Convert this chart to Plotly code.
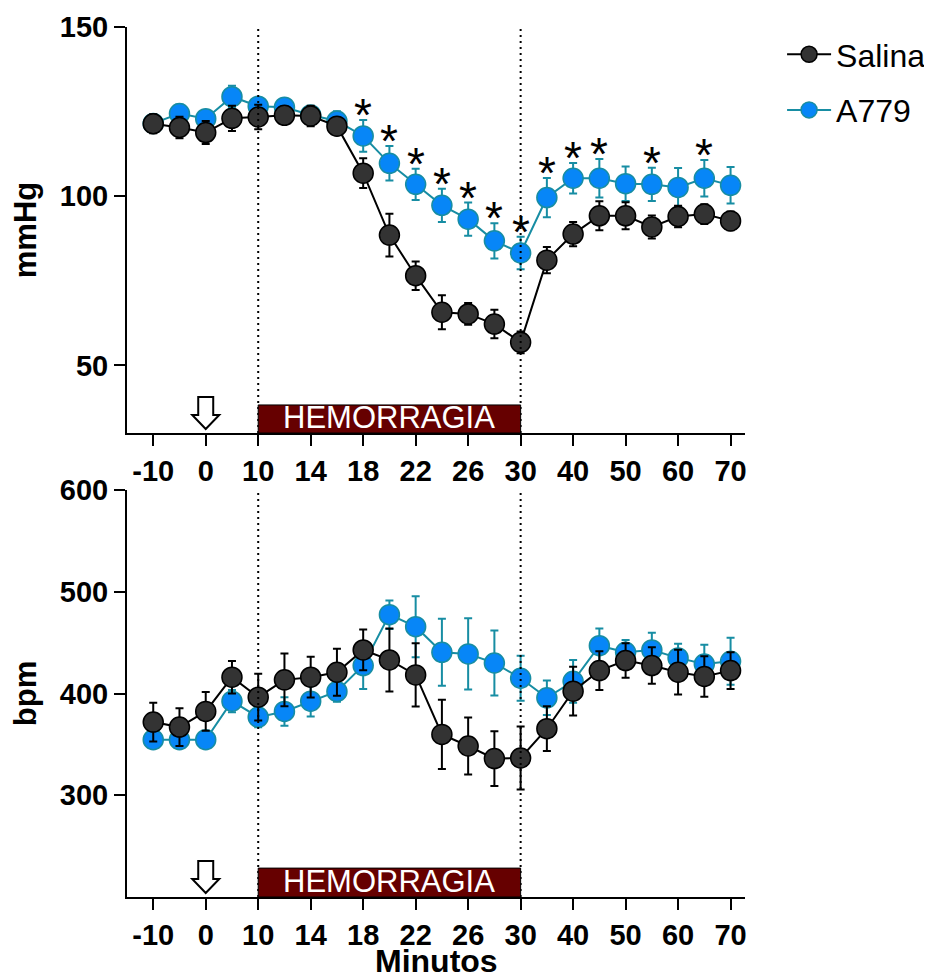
import plotly.graph_objects as go

# ---- data ----
times = [-10, -5, 0, 5, 10, 12, 14, 16, 18, 20, 22, 24, 26, 28, 30, 35, 40, 45, 50, 55, 60, 65, 70]
tick_times = [-10, 0, 10, 14, 18, 22, 26, 30, 40, 50, 60, 70]

map_salina = [121.4, 120.3, 118.8, 123.0, 123.4, 123.9, 123.7, 120.7, 106.8, 88.5, 76.5, 65.7,
              65.2, 62.2, 56.8, 81.1, 88.8, 94.2, 94.2, 90.9, 94.0, 94.7, 92.7]
map_salina_err = [2.8, 3.2, 3.4, 3.7, 3.6, 2.6, 3.0, 2.5, 4.4, 6.3, 4.2, 5.0,
                  3.2, 4.2, 3.2, 3.9, 3.6, 4.3, 4.0, 3.4, 3.2, 2.9, 2.8]
map_a779 = [121.5, 124.4, 122.9, 129.4, 126.6, 126.3, 124.0, 122.2, 117.8, 109.7, 103.5, 97.3,
            93.2, 86.8, 83.2, 99.6, 105.3, 105.3, 103.7, 103.5, 102.6, 105.3, 103.2]
map_a779_err = [2.0, 2.7, 2.3, 3.2, 2.5, 2.0, 2.0, 2.9, 4.7, 5.1, 4.6, 4.9,
                4.9, 5.2, 4.8, 5.8, 4.5, 5.7, 5.1, 4.9, 5.7, 5.4, 5.4]

hr_salina = [371.9, 367.0, 382.4, 416.0, 396.4, 413.4, 416.0, 420.9, 442.8, 433.0, 418.3, 359.8,
             348.4, 336.0, 336.6, 365.4, 402.3, 422.5, 432.4, 427.5, 420.9, 416.7, 422.5]
hr_salina_err = [19, 18.6, 19, 16, 23, 26, 20, 23, 20, 31, 31, 34,
                 28, 27, 31, 22, 24, 19, 17, 18, 22, 20, 18]
hr_a779 = [354.6, 354.6, 354.6, 392.5, 376.8, 382.4, 392.5, 402.0, 427.5, 477.5, 465.7, 440.5,
           438.9, 430.0, 415.0, 395.8, 412.0, 447.0, 440.5, 442.8, 435.0, 429.0, 431.7]
hr_a779_err = [8, 8, 6, 11, 10, 14, 15, 10, 23, 14, 30, 33,
               35, 32, 22, 17, 21, 17, 12, 17, 14, 19, 23]

star_times = [18, 20, 22, 24, 26, 28, 30, 35, 40, 45, 55, 65]
hemorrhage_start, hemorrhage_end = 10, 30
injection_time = 0

# ---- styling ----
FONT = "Liberation Sans, Arial, sans-serif"
BLACK_FILL = "#333333"
BLUE_FILL = "#0786F7"
BLUE_LINE = "#178DA3"

xi = list(range(len(times)))
tickvals = [times.index(t) for t in tick_times]
ticktext = [str(t) for t in tick_times]
idx_start = times.index(hemorrhage_start)
idx_end = times.index(hemorrhage_end)
idx_inj = times.index(injection_time)

fig = go.Figure()


def add_series(x, y, err, name, fill, line, xa, ya, show):
    fig.add_trace(go.Scatter(
        x=x, y=y, name=name, mode="lines+markers",
        line=dict(color=line, width=2),
        marker=dict(size=20, color=fill, line=dict(color=line, width=1.5)),
        error_y=dict(type="data", array=err, color=line, thickness=2, width=4),
        xaxis=xa, yaxis=ya, showlegend=show,
        legendgroup=name, legendrank=1 if name == "Salina" else 2,
    ))


add_series(xi, map_a779, map_a779_err, "A779", BLUE_FILL, BLUE_LINE, "x", "y", True)
add_series(xi, map_salina, map_salina_err, "Salina", BLACK_FILL, "#000000", "x", "y", True)
add_series(xi, hr_a779, hr_a779_err, "A779", BLUE_FILL, BLUE_LINE, "x2", "y2", False)
add_series(xi, hr_salina, hr_salina_err, "Salina", BLACK_FILL, "#000000", "x2", "y2", False)

axis_common = dict(
    showline=True, linecolor="black", linewidth=2, ticks="outside", ticklen=11,
    tickwidth=2, tickcolor="black", showgrid=False, zeroline=False, automargin=False,
    tickfont=dict(family=FONT, size=29, color="black", weight="bold"),
)
xr = [-1, 22.55]
# page body adds an 8px margin; figure size/margins compensate for it
fig.update_layout(
    width=924, height=970,
    paper_bgcolor="white", plot_bgcolor="white",
    margin=dict(l=119, r=187, t=19, b=81, autoexpand=False),
    font=dict(family=FONT, color="black"),
    xaxis=dict(domain=[0, 1], range=xr, tickvals=tickvals, ticktext=ticktext,
               anchor="y", **axis_common),
    yaxis=dict(domain=[0.5333, 1], range=[30, 150], tickvals=[50, 100, 150],
               anchor="x",
               title=dict(text="<b>mmHg</b>", font=dict(family=FONT, size=31), standoff=17),
               **axis_common),
    xaxis2=dict(domain=[0, 1], range=xr, tickvals=tickvals, ticktext=ticktext,
                anchor="y2", **axis_common),
    yaxis2=dict(domain=[0, 0.4678], range=[200, 600], tickvals=[300, 400, 500, 600],
                anchor="x2",
                title=dict(text="<b>bpm</b>", font=dict(family=FONT, size=31), standoff=17),
                **axis_common),
    legend=dict(x=1.06, y=1.0, xanchor="left", yanchor="top",
                font=dict(family=FONT, size=32, color="black"),
                tracegroupgap=11, itemwidth=44, bgcolor="rgba(0,0,0,0)"),
)

# x-axis title as a paper annotation
fig.add_annotation(xref="paper", yref="paper", x=0.5, y=-0.074, yanchor="middle",
                   text="<b>Minutos</b>", showarrow=False,
                   font=dict(family=FONT, size=32, color="black"))

# shapes: dotted hemorrhage lines, hemorrhage boxes, injection arrows
box_top = {"y": 38.3, "y2": 228.4}
ymin = {"y": 30, "y2": 200}
for xa, ya in (("x", "y"), ("x2", "y2")):
    for xv in (idx_start, idx_end):
        fig.add_shape(type="line", xref=xa, yref=f"{ya} domain", x0=xv, x1=xv, y0=0, y1=1,
                      line=dict(color="black", width=2, dash="2px,4px"))
    fig.add_shape(type="rect", xref=xa, yref=ya, x0=idx_start, x1=idx_end,
                  y0=ymin[ya], y1=box_top[ya], fillcolor="#660000",
                  line=dict(color="black", width=1))
    fig.add_annotation(xref=xa, yref=ya, x=(idx_start + idx_end) / 2,
                       y=(ymin[ya] + box_top[ya]) / 2, text="HEMORRAGIA", showarrow=False,
                       font=dict(family=FONT, size=31, color="white"), yshift=1)
    fig.add_shape(type="path", xref=xa, yref=ya, xsizemode="pixel", ysizemode="pixel",
                  xanchor=idx_inj, yanchor=ymin[ya],
                  path="M -7.5 36 L 7.5 36 L 7.5 18 L 13.5 18 L 0 4 L -13.5 18 L -7.5 18 Z",
                  fillcolor="white", line=dict(color="black", width=2))

# significance stars on MAP
for t in star_times:
    i = times.index(t)
    fig.add_annotation(xref="x", yref="y", x=i, y=map_a779[i] + map_a779_err[i],
                       text="*", showarrow=False, yanchor="bottom", yshift=-23,
                       font=dict(family=FONT, size=46, color="black"))

fig.write_html("out.html")
